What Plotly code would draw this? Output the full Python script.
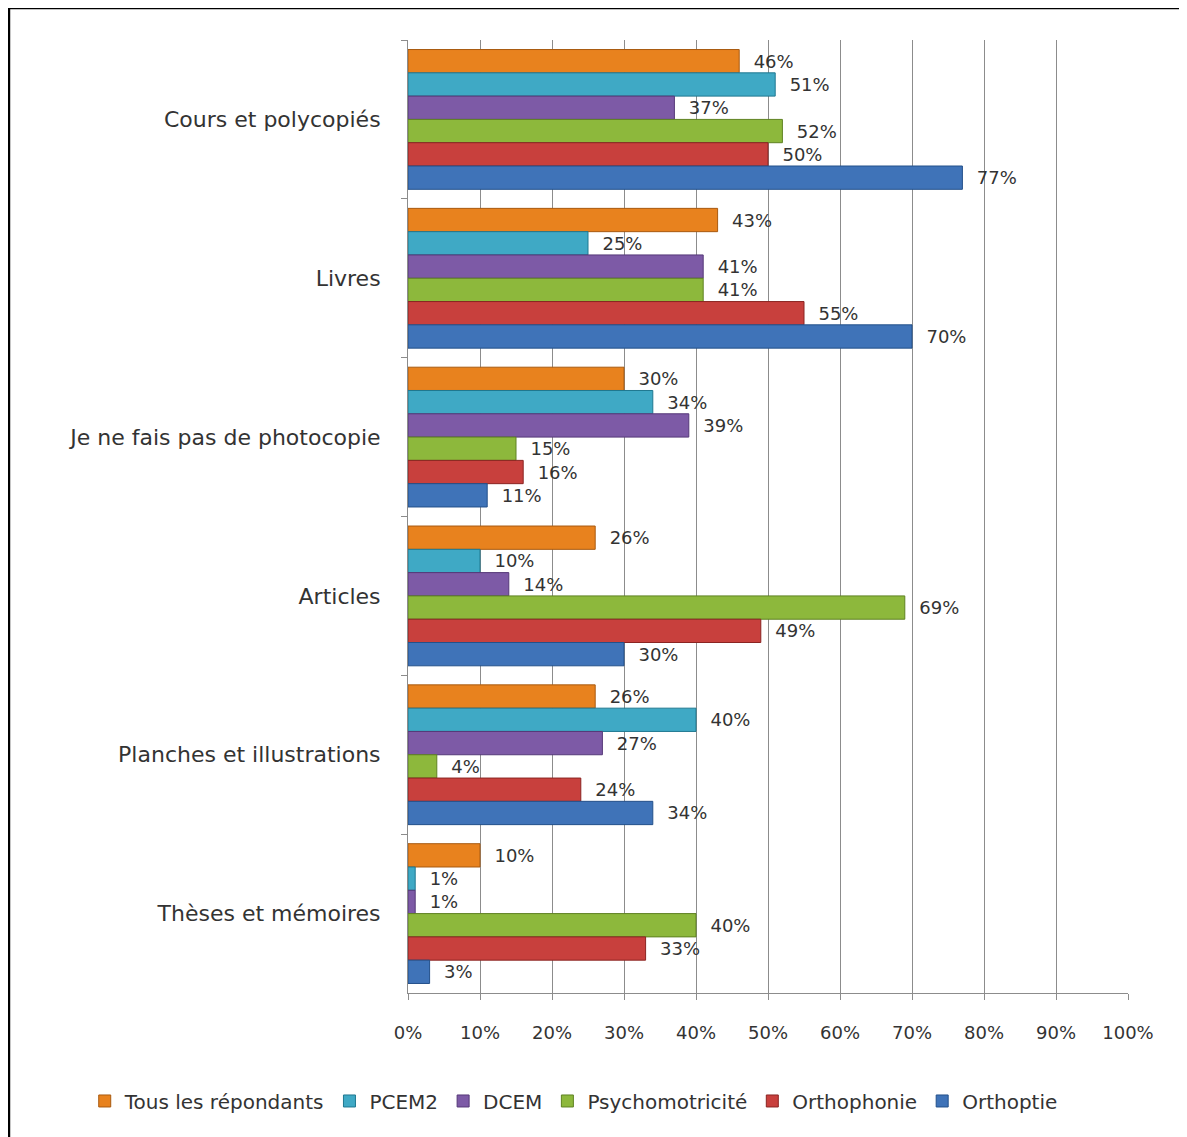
import plotly.graph_objects as go

categories = [
    "Cours et polycopiés",
    "Livres",
    "Je ne fais pas de photocopie",
    "Articles",
    "Planches et illustrations",
    "Thèses et mémoires",
]

series_names = ["Tous les répondants", "PCEM2", "DCEM", "Psychomotricité", "Orthophonie", "Orthoptie"]

tous = [46, 43, 30, 26, 26, 10]
pcem2 = [51, 25, 34, 10, 40, 1]
dcem = [37, 41, 39, 14, 27, 1]
psycho = [52, 41, 15, 69, 4, 40]
orthophonie = [50, 55, 16, 49, 24, 33]
orthoptie = [77, 70, 11, 30, 34, 3]

series_values = [tous, pcem2, dcem, psycho, orthophonie, orthoptie]
colors = ["#E8821E", "#3FA9C5", "#7D5AA6", "#8DB83C", "#C8403D", "#3F73B8"]
line_colors = ["#A85A10", "#1F7890", "#553878", "#5F8222", "#8A2422", "#23508A"]

tick_vals = list(range(0, 101, 10))
tick_text = [f"{v}%" for v in tick_vals]

font_family = "DejaVu Sans, Verdana, sans-serif"
pad = "\u00a0\u00a0"

fig = go.Figure()
for name, vals, col, lc in zip(series_names, series_values, colors, line_colors):
    fig.add_trace(
        go.Bar(
            y=categories,
            x=vals,
            name=name,
            orientation="h",
            marker=dict(color=col, line=dict(color=lc, width=1)),
            text=[f"{pad}{v}%" for v in vals],
            textposition="outside",
            textfont=dict(size=18, color="#333333", family=font_family),
            cliponaxis=False,
        )
    )

fig.update_layout(
    width=1187,
    height=1137,
    barmode="group",
    bargap=0.12,
    bargroupgap=0,
    plot_bgcolor="white",
    paper_bgcolor="white",
    font=dict(family=font_family, color="#333333"),
    margin=dict(l=400, r=67, t=32, b=152),
    showlegend=True,
    legend=dict(
        orientation="h",
        x=-0.449,
        xanchor="left",
        y=-0.1133,
        yanchor="middle",
        font=dict(size=20, family=font_family),
        itemwidth=30,
        traceorder="normal",
    ),
    xaxis=dict(
        range=[0, 100],
        tickvals=tick_vals,
        ticktext=tick_text,
        showgrid=True,
        gridcolor="#8C8C8C",
        gridwidth=1,
        showline=True,
        linecolor="#8C8C8C",
        ticks="outside",
        ticklen=6,
        tickcolor="#8C8C8C",
        tickfont=dict(size=18, family=font_family),
        ticklabelstandoff=17,
        zeroline=False,
    ),
    yaxis=dict(
        autorange="reversed",
        showline=True,
        linecolor="#8C8C8C",
        ticks="outside",
        ticklen=6,
        tickcolor="#8C8C8C",
        tickson="boundaries",
        tickfont=dict(size=22, family=font_family),
        ticklabelstandoff=22,
    ),
    shapes=[
        dict(
            type="rect",
            xref="paper",
            yref="paper",
            x0=-0.5542,
            x1=1.2,
            y0=-0.3,
            y1=1.0336,
            line=dict(color="black", width=2.5),
            fillcolor="rgba(0,0,0,0)",
            layer="below",
        )
    ],
)

fig.write_html("out.html")
